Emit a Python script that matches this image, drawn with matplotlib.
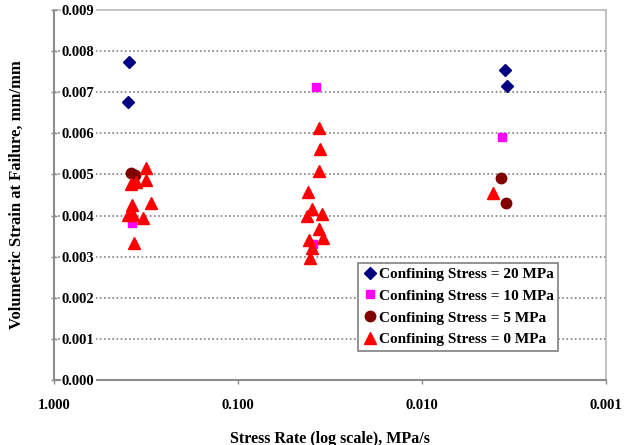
import numpy as np
import matplotlib.pyplot as plt
from matplotlib.ticker import FixedLocator, NullLocator

plt.rcParams['font.family'] = ['Liberation Serif', 'DejaVu Serif']
plt.rcParams['font.weight'] = 'bold'

# stress rate (MPa/s) and volumetric strain at failure (mm/mm)
rate_20 = [0.388, 0.396, 0.00353, 0.00345]
strain_20 = [0.00774, 0.00676, 0.00753, 0.00716]

rate_10 = [0.377, 0.0375, 0.0391, 0.00369]
strain_10 = [0.00382, 0.00713, 0.00332, 0.00592]

rate_5 = [0.38, 0.36, 0.00371, 0.00349]
strain_5 = [0.00503, 0.00498, 0.00491, 0.00430]

rate_0 = [0.315, 0.314, 0.382, 0.357, 0.296, 0.374, 0.393, 0.369, 0.328, 0.365,
          0.0360, 0.0356, 0.0360, 0.0417, 0.0396, 0.0422, 0.0350, 0.0363, 0.0345,
          0.0408, 0.0395, 0.0405, 0.00413]
strain_0 = [0.00515, 0.00487, 0.00478, 0.00481, 0.00431, 0.00425, 0.00401, 0.00401,
            0.00393, 0.00333, 0.00613, 0.00562, 0.00509, 0.00458, 0.00416, 0.00399,
            0.00403, 0.00368, 0.00345, 0.00340, 0.00322, 0.00298, 0.00454]

xticks = [1.0, 0.1, 0.01, 0.001]
xticklabels = ['1.000', '0.100', '0.010', '0.001']
yticks = np.arange(0, 0.0091, 0.001)

fig = plt.figure(figsize=(6.24, 4.45), dpi=100)
ax = fig.add_axes([0.086, 0.146, 0.885, 0.8315])

ax.plot(rate_20, strain_20, 'D', color='#000080', markersize=6.5, linestyle='none',
        label='Confining Stress = 20 MPa')
ax.plot(rate_10, strain_10, 's', color='#FF00FF', markersize=5.5, linestyle='none',
        label='Confining Stress = 10 MPa')
ax.plot(rate_5, strain_5, 'o', color='#800000', markersize=7.5, linestyle='none',
        label='Confining Stress = 5 MPa')
ax.plot(rate_0, strain_0, '^', color='#FF0000', markersize=8.5, linestyle='none',
        label='Confining Stress = 0 MPa')

ax.set_xscale('log')
ax.set_xlim(1.0, 0.001)
ax.set_ylim(0, 0.009)
ax.xaxis.set_major_locator(FixedLocator(xticks))
ax.xaxis.set_minor_locator(NullLocator())
ax.set_xticklabels(xticklabels)
ax.set_yticks(yticks)
ax.set_yticklabels(['%.3f' % v for v in yticks])

for v in yticks[1:-1]:
    ax.axhline(v, color='#808080', linestyle=(0, (1, 1.5)), linewidth=1.2, zorder=0)

for side in ['left', 'bottom']:
    ax.spines[side].set_color('#8c8c8c')
    ax.spines[side].set_linewidth(1.5)
for side in ['top', 'right']:
    ax.spines[side].set_color('#b8b8b8')
    ax.spines[side].set_linewidth(1.2)

ax.tick_params(axis='x', direction='out', length=3, width=1, color='#8c8c8c',
               labelsize=10.5, pad=11)
ax.tick_params(axis='y', direction='inout', length=4, width=1, color='#8c8c8c',
               labelsize=10.5, pad=-8)
ax.yaxis.set_zorder(3)
for lab in ax.get_yticklabels():
    lab.set_horizontalalignment('left')
    lab.set_bbox(dict(facecolor='white', edgecolor='none', pad=1))

ax.set_xlabel('Stress Rate (log scale), MPa/s', fontsize=11.5, fontweight='bold', labelpad=13)
ax.set_ylabel('Volumetric Strain at Failure, mm/mm', fontsize=12, fontweight='bold',
              labelpad=19)

leg = ax.legend(loc='upper left', bbox_to_anchor=(0.551, 0.317), fancybox=False,
                framealpha=1, edgecolor='#808080', fontsize=11, handletextpad=0.05,
                handlelength=1.0, labelspacing=0.53, borderpad=0.3, borderaxespad=0)
leg.get_frame().set_linewidth(1.2)
leg.set_zorder(6)

fig.savefig('out.png', dpi=100)
